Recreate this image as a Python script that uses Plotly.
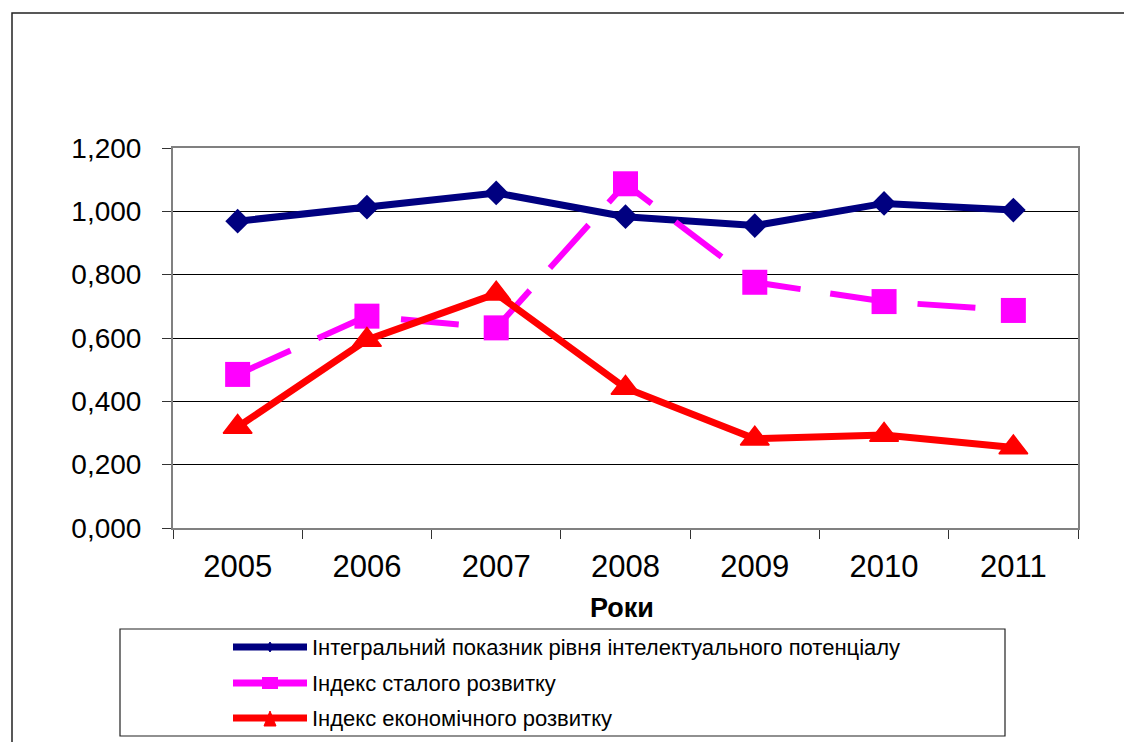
import plotly.graph_objects as go

# ---- data ----
years = ["2005", "2006", "2007", "2008", "2009", "2010", "2011"]
integral = [0.969, 1.013, 1.058, 0.983, 0.955, 1.025, 1.004]
sustainable = [0.485, 0.669, 0.632, 1.087, 0.776, 0.715, 0.687]
economic = [0.319, 0.594, 0.740, 0.442, 0.282, 0.294, 0.254]
series_names = [
    "Інтегральний показник рівня інтелектуального потенціалу",
    "Індекс сталого розвитку",
    "Індекс економічного розвитку",
]
y_tick_vals = [0.0, 0.2, 0.4, 0.6, 0.8, 1.0, 1.2]
y_tick_text = ["0,000", "0,200", "0,400", "0,600", "0,800", "1,000", "1,200"]
x_title = "Роки"

# ---- layout geometry (page pixels) ----
W, H = 1132, 742
OFF = 8  # page body margin offset
L, R, T, B = 173, 1078, 148, 528
FONT = "Liberation Sans, Arial, sans-serif"
BLUE, PINK, RED = "#000080", "#FF00FF", "#FF0000"


def px(x):
    return (x - L) / (R - L)


def py(y):
    return (B - y) / (B - T)


fig = go.Figure()
fig.add_trace(go.Scatter(
    x=years, y=integral, name=series_names[0], mode="lines+markers",
    line=dict(color=BLUE, width=7),
    marker=dict(symbol="diamond", size=19, color=BLUE),
))
fig.add_trace(go.Scatter(
    x=years, y=sustainable, name=series_names[1], mode="lines+markers",
    line=dict(color=PINK, width=6, dash="58px,30px"),
    marker=dict(symbol="square", size=25, color=PINK),
))
fig.add_trace(go.Scatter(
    x=years, y=economic, name=series_names[2], mode="lines+markers",
    line=dict(color=RED, width=7),
    marker=dict(symbol="triangle-up", size=25, color=RED, line=dict(color=RED, width=1.5)),
))

shapes = []
# outer chart border
shapes.append(dict(type="rect", xref="paper", yref="paper",
                   x0=px(12), x1=px(1140), y0=py(750), y1=py(13),
                   line=dict(color="#222222", width=1.5), layer="below"))
# legend box
shapes.append(dict(type="rect", xref="paper", yref="paper",
                   x0=px(120), x1=px(1005), y0=py(736), y1=py(629),
                   line=dict(color="#222222", width=1.2)))

annotations = []
legend_rows = [647, 683, 718]
colors = [BLUE, PINK, RED]
for name, c, yy in zip(series_names, colors, legend_rows):
    shapes.append(dict(type="line", xref="paper", yref="paper",
                       x0=px(233), x1=px(307), y0=py(yy), y1=py(yy),
                       line=dict(color=c, width=7)))
    annotations.append(dict(xref="paper", yref="paper", x=px(310), y=py(yy),
                            text=name, showarrow=False, xanchor="left", yanchor="middle",
                            font=dict(family=FONT, size=22, color="#000000")))

# small legend markers
cx = 270
shapes.append(dict(type="path", xref="paper", yref="paper",
                   path=f"M {px(cx-3)} {py(647)} L {px(cx)} {py(642)} L {px(cx+3)} {py(647)} L {px(cx)} {py(652)} Z",
                   fillcolor=BLUE, line=dict(color=BLUE, width=1)))
shapes.append(dict(type="rect", xref="paper", yref="paper",
                   x0=px(cx-8), x1=px(cx+8), y0=py(689), y1=py(677),
                   fillcolor=PINK, line=dict(color=PINK, width=0)))
shapes.append(dict(type="path", xref="paper", yref="paper",
                   path=f"M {px(cx-6)} {py(726)} L {px(cx)} {py(711)} L {px(cx+6)} {py(726)} Z",
                   fillcolor=RED, line=dict(color=RED, width=1)))

# x-axis title
annotations.append(dict(xref="paper", yref="paper", x=px(622), y=py(608),
                        text=f"<b>{x_title}</b>", showarrow=False,
                        xanchor="center", yanchor="middle",
                        font=dict(family=FONT, size=27, color="#000000")))

fig.update_layout(
    width=W - OFF, height=H - OFF,
    margin=dict(l=L - OFF, r=W - R, t=T - OFF, b=H - B, pad=0),
    paper_bgcolor="white", plot_bgcolor="white",
    showlegend=False,
    font=dict(family=FONT, color="#000000"),
    shapes=shapes, annotations=annotations,
)
fig.update_xaxes(
    type="category", range=[-0.5, 6.5], tickson="boundaries",
    ticks="outside", ticklen=9, tickcolor="#333333", tickwidth=1,
    tickfont=dict(family=FONT, size=31, color="#000000"),
    showgrid=False, showline=True, linecolor="#808080", linewidth=2, mirror=True,
    ticklabelstandoff=10,
)
fig.update_yaxes(
    range=[0, 1.2], tickmode="array", tickvals=y_tick_vals, ticktext=y_tick_text,
    ticks="outside", ticklen=9, tickcolor="#333333", tickwidth=1,
    tickfont=dict(family=FONT, size=28, color="#000000"),
    showgrid=True, gridcolor="#000000", gridwidth=1,
    zeroline=False, showline=True, linecolor="#808080", linewidth=2, mirror=True,
    ticklabelstandoff=15,
)

fig.write_html("out.html")
